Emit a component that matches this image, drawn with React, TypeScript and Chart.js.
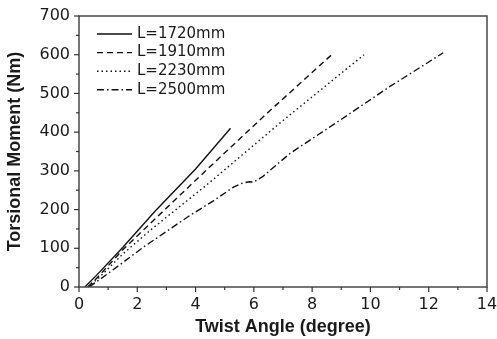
import { useEffect, useRef } from 'react';
import { Chart, registerables } from 'chart.js';

Chart.register(...registerables);

const seriesLabels = ['L=1720mm', 'L=1910mm', 'L=2230mm', 'L=2500mm'];

const l1720Angle = [0.2, 0.6, 1.5, 2.6, 4.0, 5.2];
const l1720Moment = [0, 30, 102, 195, 305, 410];

const l1910Angle = [0.3, 0.6, 1.5, 2.5, 4.37, 6.5, 8.7];
const l1910Moment = [0, 22, 96, 168, 302, 452, 602];

const l2230Angle = [0.3, 0.7, 1.5, 2.5, 4.37, 7.0, 9.78];
const l2230Moment = [0, 25, 85, 150, 263, 430, 600];

const l2500Angle = [0.35, 1.0, 2.25, 3.81, 4.6, 5.3, 5.6, 5.85, 6.0, 6.3, 7.24, 8.96, 10.67, 12.5];
const l2500Moment = [0, 35, 105, 185, 222, 258, 268, 272, 271, 285, 345, 431, 518, 605];

const xAxisTitle = 'Twist Angle (degree)';
const yAxisTitle = 'Torsional Moment (Nm)';

const dashes = [[], [6, 4], [1.5, 3], [7, 3, 1.5, 3]];

function pts(xs: number[], ys: number[]) {
  return xs.map((x, i) => ({ x, y: ys[i] }));
}

const framePlugin = {
  id: 'framePlugin',
  afterDraw(chart: any) {
    const { ctx, chartArea } = chart;
    const { left, right, top, bottom } = chartArea;
    const xs = chart.scales.x;
    const ys = chart.scales.y;
    ctx.save();
    ctx.strokeStyle = '#4a4a4a';
    ctx.lineWidth = 1.5;
    ctx.setLineDash([]);
    ctx.strokeRect(left, top, right - left, bottom - top);
    ctx.lineWidth = 1.2;
    ctx.strokeStyle = '#333';
    for (let v = xs.min; v <= xs.max + 1e-9; v += 1) {
      const p = xs.getPixelForValue(v);
      const len = Math.round(v) % 2 === 0 ? 5 : 3;
      ctx.beginPath();
      ctx.moveTo(p, bottom);
      ctx.lineTo(p, bottom + len);
      ctx.stroke();
    }
    for (let v = ys.min; v <= ys.max + 1e-9; v += 50) {
      const p = ys.getPixelForValue(v);
      const len = Math.round(v) % 100 === 0 ? 5 : 3;
      ctx.beginPath();
      ctx.moveTo(left, p);
      ctx.lineTo(left - len, p);
      ctx.stroke();
    }
    chart.data.datasets.forEach((ds: any, i: number) => {
      const y = top + 18 + i * 18.6;
      ctx.strokeStyle = ds.borderColor;
      ctx.lineWidth = ds.borderWidth;
      ctx.setLineDash(ds.borderDash || []);
      ctx.beginPath();
      ctx.moveTo(left + 18, y);
      ctx.lineTo(left + 53, y);
      ctx.stroke();
      ctx.setLineDash([]);
      ctx.fillStyle = '#1a1a1a';
      ctx.font = '15px "DejaVu Sans"';
      ctx.textBaseline = 'middle';
      ctx.textAlign = 'left';
      ctx.fillText(ds.label, left + 58, y);
    });
    ctx.restore();
  },
};

export default function App() {
  const ref = useRef<HTMLCanvasElement | null>(null);
  useEffect(() => {
    document.body.style.margin = '0';
    const series = [
      pts(l1720Angle, l1720Moment),
      pts(l1910Angle, l1910Moment),
      pts(l2230Angle, l2230Moment),
      pts(l2500Angle, l2500Moment),
    ];
    const chart = new Chart(ref.current as HTMLCanvasElement, {
      type: 'scatter',
      data: {
        datasets: series.map((d, i) => ({
          label: seriesLabels[i],
          data: d,
          showLine: true,
          pointRadius: 0,
          borderColor: '#111',
          borderWidth: 1.4,
          borderDash: dashes[i],
          fill: false,
        })),
      },
      options: {
        animation: false,
        responsive: true,
        maintainAspectRatio: false,
        layout: { padding: { left: 0, right: 10, top: 16, bottom: 0 } },
        plugins: { legend: { display: false }, tooltip: { enabled: false } },
        scales: {
          x: {
            type: 'linear',
            min: 0,
            max: 14,
            grid: { display: false, drawTicks: false },
            border: { display: false },
            ticks: {
              stepSize: 2,
              padding: 8,
              color: '#1a1a1a',
              font: { family: '"DejaVu Sans"', size: 16 },
            },
            title: {
              display: true,
              text: xAxisTitle,
              color: '#1a1a1a',
              font: { family: '"Liberation Sans"', size: 18, weight: 'bold' },
              padding: { top: 0, bottom: 1 },
            },
            afterFit: (s: any) => {
              s.height = 52;
              s.paddingLeft = 0;
              s.paddingRight = 0;
            },
          },
          y: {
            type: 'linear',
            min: 0,
            max: 700,
            grid: { display: false, drawTicks: false },
            border: { display: false },
            ticks: {
              stepSize: 100,
              padding: 9,
              color: '#1a1a1a',
              font: { family: '"DejaVu Sans"', size: 16 },
            },
            title: {
              display: true,
              text: yAxisTitle,
              color: '#1a1a1a',
              font: { family: '"Liberation Sans"', size: 18, weight: 'bold' },
              padding: { top: 4, bottom: 0 },
            },
            afterFit: (s: any) => {
              s.width = 79;
              s.paddingTop = 0;
              s.paddingBottom = 0;
            },
          },
        },
      },
      plugins: [framePlugin],
    });
    return () => chart.destroy();
  }, []);
  return (
    <div style={{ width: 497, height: 339, position: 'relative' }}>
      <canvas ref={ref} />
    </div>
  );
}
